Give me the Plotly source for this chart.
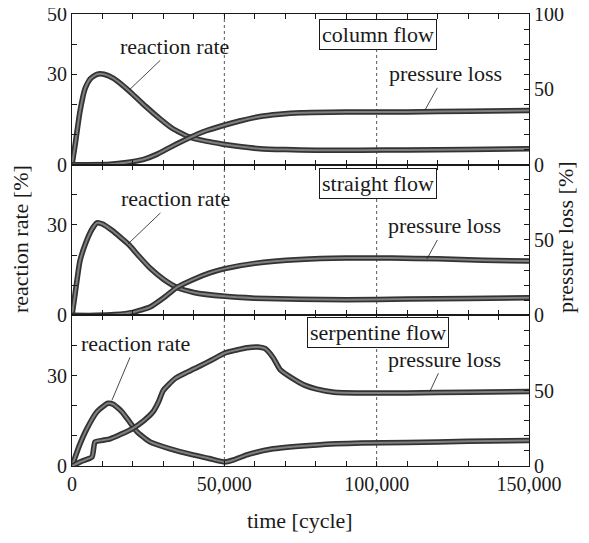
import plotly.graph_objects as go
from plotly.subplots import make_subplots

# column flow (top panel)
rr_col_x = [0, 1000, 2600, 4300, 6000, 8200, 10500, 13500, 17000, 20000, 24000, 28900, 33000,
            38700, 44000, 49600, 55000, 61700, 70000, 80000, 95000, 110000, 130000, 150000]
rr_col_y = [0, 6.4, 17.6, 25.3, 28.5, 30, 30, 28.7, 26, 23.3, 19.5, 15.2, 12,
            9.1, 7.8, 6.8, 6, 5.3, 5, 4.8, 4.8, 4.9, 5.0, 5.3]
pl_col_x = [0, 5000, 12500, 18000, 23300, 28000, 32200, 38700, 44000, 49600, 55000, 61700,
            68000, 75000, 90000, 110000, 130000, 150000]
pl_col_y = [0, 0, 0.3, 1.5, 3.4, 7, 11.5, 18, 22.5, 26, 29, 32,
            33.5, 34.5, 35, 35, 35.5, 36]

# straight flow (middle panel)
rr_str_x = [0, 1000, 2600, 4500, 6500, 8200, 10000, 13000, 16000, 18700, 22000, 25600, 30000,
            34400, 40000, 50200, 60000, 74800, 90000, 110000, 130000, 150000]
rr_str_y = [0, 7, 18, 24, 28.5, 30.7, 30.3, 28.3, 25.8, 23.4, 19.6, 15.7, 12,
            9.3, 7.6, 6.3, 5.7, 5.3, 5.2, 5.4, 5.6, 5.8]
pl_str_x = [0, 8000, 14000, 20000, 25600, 30000, 34400, 40000, 45000, 50200, 60000, 74800,
            90000, 105000, 120000, 135000, 150000]
pl_str_y = [0, 0, 0.5, 2, 5.5, 11.5, 18.5, 24, 28, 31, 34.5, 37,
            38, 38, 37.5, 36.5, 36]

# serpentine flow (bottom panel)
rr_serp_x = [0, 2500, 4900, 8200, 10500, 11800, 13500, 16400, 19000, 21300, 25600, 32200,
             39700, 45000, 50200, 53000, 57400, 66000, 80400, 95000, 110000, 130000, 150000]
rr_serp_y = [0, 7, 12.4, 18, 20, 20.8, 20.5, 18, 14.5, 11.4, 8, 5.7,
             3.7, 2.5, 1.3, 2, 3.7, 5.7, 7, 7.6, 7.8, 8.2, 8.5]
pl_serp_x = [0, 3000, 6560, 7550, 10000, 12500, 16000, 20000, 23500, 26600, 28500, 29900,
             33800, 38000, 42000, 46000, 50200, 54000, 57400, 61000, 63300, 66000, 68300,
             72500, 76500, 80400, 86000, 95000, 110000, 130000, 150000]
pl_serp_y = [0, 3, 6, 16, 17, 18, 21, 25, 30, 36, 43, 50,
             58, 62.5, 66.4, 70.5, 75, 77, 78.5, 79, 78, 72, 64,
             58, 53.5, 51, 49, 48.5, 48.5, 49, 49.5]

panels = [
    ("column flow", rr_col_x, rr_col_y, pl_col_x, pl_col_y),
    ("straight flow", rr_str_x, rr_str_y, pl_str_x, pl_str_y),
    ("serpentine flow", rr_serp_x, rr_serp_y, pl_serp_x, pl_serp_y),
]

FONT = "Liberation Serif, Times New Roman, DejaVu Serif, serif"
INK = "#1a1a1a"

fig = make_subplots(rows=3, cols=1, shared_xaxes=True, vertical_spacing=0,
                    specs=[[{"secondary_y": True}]] * 3)

for i, (name, rx, ry, px_, py) in enumerate(panels):
    row = i + 1
    # thick noisy-looking band: dark outer stroke, lighter core
    for sec, xs, ys in [(False, rx, ry), (True, px_, py)]:
        fig.add_trace(go.Scatter(x=xs, y=ys, mode="lines", showlegend=False,
                                 line=dict(color="#333333", width=5.5, shape="spline", smoothing=0.5)),
                      row=row, col=1, secondary_y=sec)
        fig.add_trace(go.Scatter(x=xs, y=ys, mode="lines", showlegend=False,
                                 line=dict(color="#808080", width=2, shape="spline", smoothing=0.5)),
                      row=row, col=1, secondary_y=sec)

x_ticks = list(range(0, 150001, 10000))
x_text = ["{:,}".format(v) if v % 50000 == 0 else "" for v in x_ticks]

for row in range(1, 4):
    fig.update_xaxes(domain=[0, 1], range=[0, 150000], tickvals=x_ticks, ticktext=x_text,
                     automargin=False, ticks="inside", ticklen=5, tickcolor=INK, showline=True,
                     linecolor=INK, linewidth=1, mirror="ticks", showgrid=False, zeroline=False,
                     ticklabeloverflow="allow", showticklabels=(row == 3), row=row, col=1)
    left_text = ["0", "", "", "30", "", "50" if row == 1 else ""]
    fig.update_yaxes(range=[0, 50], tickvals=[0, 10, 20, 30, 40, 50], ticktext=left_text,
                     automargin=False, ticks="inside", ticklen=5, tickcolor=INK, showline=True,
                     linecolor=INK, showgrid=False, zeroline=False, ticklabeloverflow="allow",
                     row=row, col=1, secondary_y=False)
    right_text = ["0", "", "", "", "", "50", "", "", "", "", "100" if row == 1 else ""]
    fig.update_yaxes(range=[0, 100], tickvals=list(range(0, 101, 10)), ticktext=right_text,
                     automargin=False, ticks="inside", ticklen=5, tickcolor=INK, showline=True,
                     linecolor=INK, showgrid=False, zeroline=False, ticklabeloverflow="allow",
                     row=row, col=1, secondary_y=True)

# dotted guide lines
for xv in [50000, 100000]:
    fig.add_shape(type="line", xref="x", yref="paper", x0=xv, x1=xv, y0=0, y1=1,
                  line=dict(color="#555555", width=1, dash="dot"), layer="below")

xrefs = ["x", "x2", "x3"]
yrefs = ["y", "y3", "y5"]
box_y = [43.2, 43.7, 44.3]
for i, (name, *_rest) in enumerate(panels):
    fig.add_annotation(x=100500, y=box_y[i], xref=xrefs[i], yref=yrefs[i], text=name,
                       showarrow=False, bgcolor="white", bordercolor=INK, borderwidth=1,
                       borderpad=2, font=dict(family=FONT, size=22, color=INK))

# labels with leader lines: (panel, text, tip x, tip y on left axis, ax, ay)
labels = [
    (0, "reaction rate", 19000, 25.0, 45, -43),
    (0, "pressure loss", 115900, 18.2, 20, -36),
    (1, "reaction rate", 18400, 23.7, 47, -45),
    (1, "pressure loss", 116500, 18.7, 18, -33),
    (2, "reaction rate", 13100, 21.8, 24, -57),
    (2, "pressure loss", 117500, 24.8, 15, -32),
]
for p, txt, tx, ty, ax, ay in labels:
    fig.add_annotation(x=tx, y=ty, xref=xrefs[p], yref=yrefs[p], text=txt, showarrow=True,
                       arrowhead=0, arrowwidth=0.8, arrowcolor=INK, ax=ax, ay=ay,
                       font=dict(family=FONT, size=22, color=INK))

# target plot area in page pixels: x 72..529, y 14..464
titles = [("reaction rate [%]", 21, 238, -90), ("pressure loss [%]", 566, 236, -90),
          ("time [cycle]", 300, 518, 0)]
for txt, px, py, ang in titles:
    fig.add_annotation(x=(px - 72) / 457, y=(464 - py) / 450, xanchor="center", yanchor="middle",
                       xref="paper", yref="paper", text=txt, textangle=ang, showarrow=False,
                       font=dict(family=FONT, size=22, color=INK))

fig.update_layout(width=589, height=543,
                  margin=dict(l=64, r=68, t=6, b=85, autoexpand=False),
                  plot_bgcolor="white", paper_bgcolor="white",
                  font=dict(family=FONT, size=20, color=INK))

fig.write_html("out.html")
